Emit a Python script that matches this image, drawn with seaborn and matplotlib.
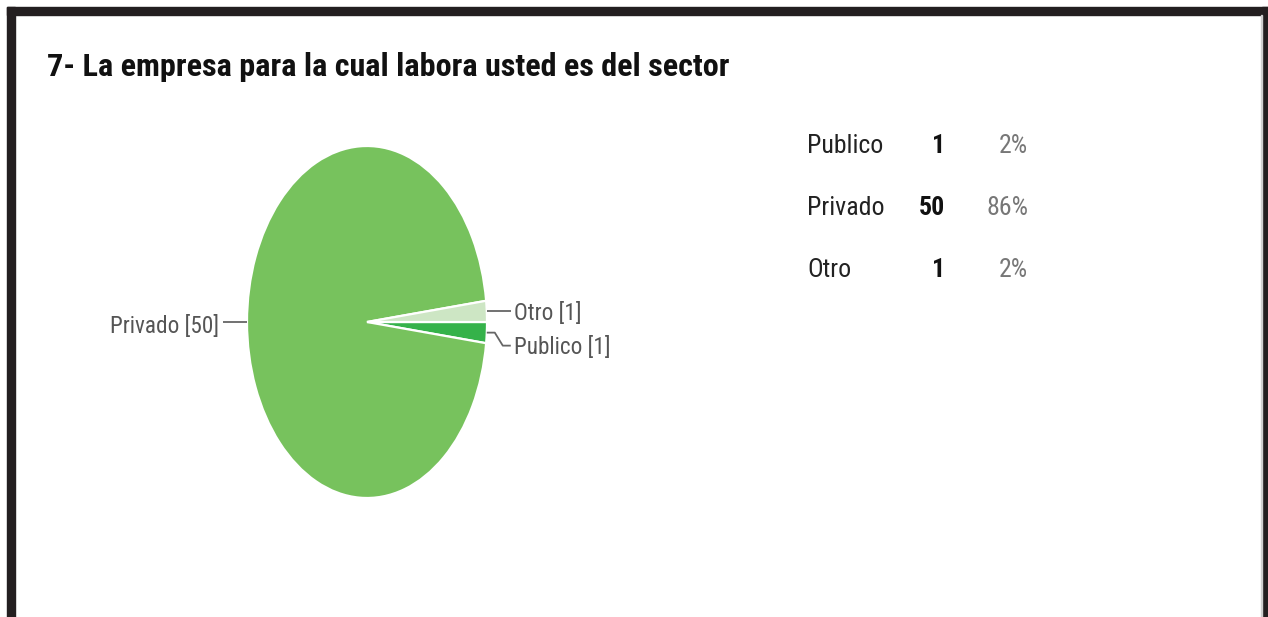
import matplotlib
matplotlib.use("Agg")
import matplotlib.pyplot as plt
import seaborn as sns
import numpy as np
from matplotlib.patches import Rectangle

# ---- data ----
title = "7- La empresa para la cual labora usted es del sector"
categories = ["Publico", "Privado", "Otro"]
counts = [1, 50, 1]
percents = [2, 86, 2]
colors = ["#35b24a", "#77c25d", "#cde6c4"]

sns.set_theme(style="white")
plt.rcParams["font.family"] = ["Roboto Condensed", "Liberation Sans Narrow", "Liberation Sans", "DejaVu Sans"]

W, H = 1268, 617
fig = plt.figure(figsize=(W / 100, H / 100), dpi=100)
fig.patch.set_facecolor("white")


def fx(px):
    return px / W


def fy(py):
    return 1 - py / H


# ---- frame ----
frame = "#231f20"
fig.patches.append(Rectangle((fx(7), fy(15)), fx(1268) - fx(7), fy(7) - fy(15),
                             transform=fig.transFigure, color=frame, zorder=0))
fig.patches.append(Rectangle((fx(7), 0), fx(15) - fx(7), fy(7),
                             transform=fig.transFigure, color=frame, zorder=0))
fig.patches.append(Rectangle((fx(1262), 0), fx(1268) - fx(1262), fy(7),
                             transform=fig.transFigure, color=frame, zorder=0))
fig.patches.append(Rectangle((fx(1260.5), 0), fx(1262) - fx(1260.5), fy(15),
                             transform=fig.transFigure, color="#cfcfcf", zorder=0))

# ---- title ----
fig.text(fx(47), fy(67), title, fontsize=23.2, fontweight="bold", color="#111111",
         ha="left", va="center")

# ---- pie (elliptical) ----
x0, x1, y0, y1 = 247, 487, 146, 498
ax = fig.add_axes([fx(x0), fy(y1), fx(x1) - fx(x0), fy(y0) - fy(y1)])
wedges, _ = ax.pie(counts, colors=colors, startangle=0, counterclock=False,
                   wedgeprops=dict(edgecolor="white", linewidth=1.6))
ax.set_aspect("auto")
ax.set_xlim(-1, 1)
ax.set_ylim(-1, 1)
ax.axis("off")

sx = 2 / (x1 - x0)   # data units per pixel (x)
sy = 2 / (y1 - y0)   # data units per pixel (y)
line_c = "#666666"
lab_c = "#555555"
label_shift_px = [13, 0, 0]  # vertical push-down (pixels) to avoid overlap

for w, cat, cnt, shift in zip(wedges, categories, counts, label_shift_px):
    mid = np.deg2rad((w.theta1 + w.theta2) / 2)
    ex, ey = np.cos(mid), np.sin(mid)
    txt = f"{cat} [{cnt}]"
    if ex > 0:
        if shift:
            xs = [ex, ex + 8 * sx, ex + 16 * sx, ex + 24 * sx]
            ys = [ey, ey, ey - shift * sy, ey - shift * sy]
        else:
            xs = [ex, ex + 24 * sx]
            ys = [ey, ey]
        ax.plot(xs, ys, color=line_c, lw=1.3, clip_on=False, solid_capstyle="butt")
        ax.text(xs[-1] + 3 * sx, ys[-1] - 2 * sy, txt, ha="left", va="center",
                fontsize=16.7, color=lab_c, clip_on=False)
    else:
        xs = [ex, ex - 24 * sx]
        ys = [ey, ey]
        ax.plot(xs, ys, color=line_c, lw=1.3, clip_on=False, solid_capstyle="butt")
        ax.text(xs[-1] - 4 * sx, ys[-1] - 4 * sy, txt, ha="right", va="center",
                fontsize=16.7, color=lab_c, clip_on=False)

# ---- table legend ----
rows_y = [146, 208, 270]
for cat, cnt, pct, yy in zip(categories, counts, percents, rows_y):
    fig.text(fx(807), fy(yy), cat, fontsize=18.6, color="#222222", ha="left", va="center")
    fig.text(fx(945), fy(yy), f"{cnt}", fontsize=18.6, fontweight="bold", color="#111111",
             ha="right", va="center")
    fig.text(fx(1028), fy(yy), f"{pct}%", fontsize=18.6, color="#777777",
             ha="right", va="center")

fig.savefig("out.png", dpi=100, facecolor="white")
